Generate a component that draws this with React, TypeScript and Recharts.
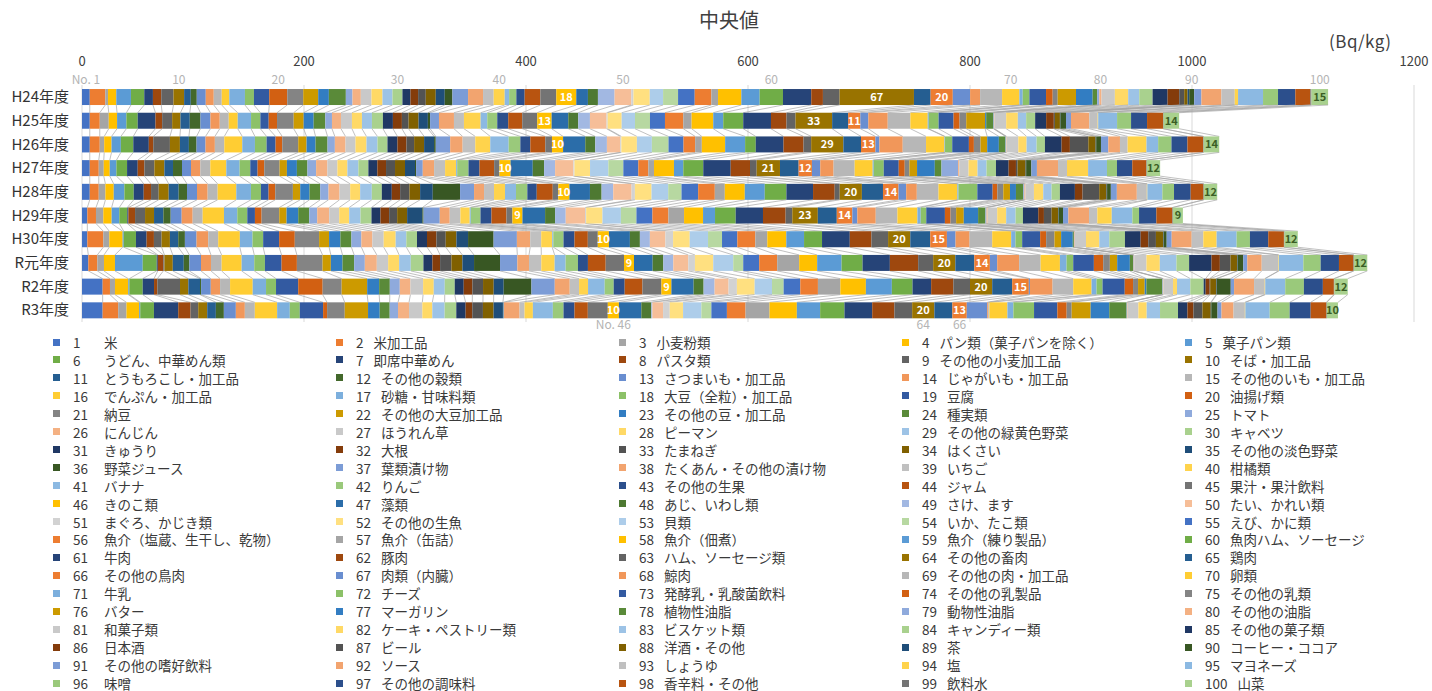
import React from 'react'
import { BarChart, Bar, XAxis, YAxis, CartesianGrid, LabelList } from 'recharts'

// 年度
const years = ['H24年度', 'H25年度', 'H26年度', 'H27年度', 'H28年度', 'H29年度', 'H30年度', 'R元年度', 'R2年度', 'R3年度']

// 食品群 No.1〜100
const itemNames = [
  '米', '米加工品', '小麦粉類', 'パン類（菓子パンを除く）', '菓子パン類',
  'うどん、中華めん類', '即席中華めん', 'パスタ類', 'その他の小麦加工品', 'そば・加工品',
  'とうもろこし・加工品', 'その他の穀類', 'さつまいも・加工品', 'じゃがいも・加工品', 'その他のいも・加工品',
  'でんぷん・加工品', '砂糖・甘味料類', '大豆（全粒）・加工品', '豆腐', '油揚げ類',
  '納豆', 'その他の大豆加工品', 'その他の豆・加工品', '種実類', 'トマト',
  'にんじん', 'ほうれん草', 'ピーマン', 'その他の緑黄色野菜', 'キャベツ',
  'きゅうり', '大根', 'たまねぎ', 'はくさい', 'その他の淡色野菜',
  '野菜ジュース', '葉類漬け物', 'たくあん・その他の漬け物', 'いちご', '柑橘類',
  'バナナ', 'りんご', 'その他の生果', 'ジャム', '果汁・果汁飲料',
  'きのこ類', '藻類', 'あじ、いわし類', 'さけ、ます', 'たい、かれい類',
  'まぐろ、かじき類', 'その他の生魚', '貝類', 'いか、たこ類', 'えび、かに類',
  '魚介（塩蔵、生干し、乾物）', '魚介（缶詰）', '魚介（佃煮）', '魚介（練り製品）', '魚肉ハム、ソーセージ',
  '牛肉', '豚肉', 'ハム、ソーセージ類', 'その他の畜肉', '鶏肉',
  'その他の鳥肉', '肉類（内臓）', '鯨肉', 'その他の肉・加工品', '卵類',
  '牛乳', 'チーズ', '発酵乳・乳酸菌飲料', 'その他の乳製品', 'その他の乳類',
  'バター', 'マーガリン', '植物性油脂', '動物性油脂', 'その他の油脂',
  '和菓子類', 'ケーキ・ペストリー類', 'ビスケット類', 'キャンディー類', 'その他の菓子類',
  '日本酒', 'ビール', '洋酒・その他', '茶', 'コーヒー・ココア',
  'その他の嗜好飲料', 'ソース', 'しょうゆ', '塩', 'マヨネーズ',
  '味噌', 'その他の調味料', '香辛料・その他', '飲料水', '山菜'
]

// 中央値 (Bq/kg) — 各年度 No.1〜100
const h24 = [
  7, 14, 2.4, 7.5, 13.2, 12, 7.8, 7.5, 11, 9.6,
  6, 5.4, 8.1, 7.2, 7.2, 6.8, 14.1, 8.1, 13.8, 16.2,
  14.4, 13.5, 9.6, 15.3, 6, 7.5, 9.6, 9.9, 9, 9,
  7.2, 6.9, 6.9, 9, 8.1, 6.9, 14.1, 13.5, 9.6, 9.9,
  4, 6.5, 7.5, 14.1, 14.4, 18, 10.5, 9, 15, 15,
  2, 14.7, 12, 13.5, 15, 15, 6, 21, 16.5, 21,
  25.5, 10.5, 15, 67, 15, 20, 15.6, 9, 19.8, 15.6,
  3, 6, 15, 6, 4.5, 16.5, 15, 4, 2, 2,
  12, 12, 10, 12, 13.5, 10.5, 4.5, 3, 1.5, 4.5,
  6.5, 18, 12, 3, 22.5, 13.5, 15.6, 13.5, 1, 15
]
const h25 = [
  7, 9, 8.1, 7.5, 8.4, 10.2, 16, 6, 9, 7.5,
  8.4, 9.6, 9, 8.4, 8.1, 8.1, 12, 8.4, 7.5, 7.5,
  15, 9, 9, 10.5, 6, 8.1, 9.9, 9, 9, 9.9,
  9, 8.1, 6, 9, 8.4, 2, 8, 13.5, 9, 15,
  6, 9, 9.9, 12.6, 13.5, 13, 15, 9, 10.5, 15,
  1, 12.6, 12, 13.5, 13.5, 16.5, 7.5, 19.5, 9, 18,
  25, 14, 8.1, 33, 14.4, 11, 7.2, 17.5, 20.4, 15.6,
  1, 8.8, 13.5, 5.4, 6, 17, 1, 6.5, 0.5, 0.5,
  10.5, 10.5, 7.5, 8.1, 9.9, 6.9, 1, 4.5, 0.5, 5,
  4.5, 16.5, 7.5, 0.5, 17, 12.6, 14.4, 14.4, 0.5, 14
]
const h26 = [
  7, 9, 4, 6.6, 8.4, 11.2, 14, 4, 15, 9,
  8.1, 6.9, 8.1, 8.4, 8.5, 16.2, 11.4, 10.5, 8.1, 6,
  14.4, 7.5, 8.1, 10.8, 6.6, 9.6, 9, 9.9, 9.9, 9,
  9, 8.1, 6.9, 9, 9, 1.5, 13, 11.2, 11.4, 13.5,
  16.6, 10.5, 9, 13.5, 6, 10, 20, 9, 10.5, 12,
  1, 14, 13.5, 15, 13.5, 10.5, 6, 21, 18, 9.6,
  25, 18, 6.9, 29, 15.9, 13, 3.6, 21, 21, 16.6,
  0.5, 6.5, 15, 4.5, 6, 6, 10.5, 6, 0.5, 0.5,
  10.5, 7.5, 9, 7.5, 15, 7.5, 16.6, 6.6, 0.5, 4.3,
  6.6, 10.5, 6.9, 17, 10.5, 12, 14.4, 14.1, 0.5, 14
]
const h27 = [
  7, 8.1, 4.5, 5.4, 6, 9.6, 9.6, 6, 9, 9,
  7.8, 8.1, 8.1, 8.4, 9, 14.4, 12, 9.6, 6.6, 6,
  13.8, 6.6, 9, 9.5, 7.8, 10.2, 9, 9, 9.9, 9,
  8.1, 7.8, 8.1, 9, 9, 1, 6, 10.2, 9.9, 9.9,
  1, 10.2, 9.9, 13.2, 4.8, 10, 20, 10.2, 9.9, 16.5,
  1, 14, 16.5, 13.5, 13.5, 9, 5.1, 18, 8.4, 18,
  24.7, 17.4, 6, 21, 16.8, 12, 7.5, 12, 19, 16.2,
  1, 9, 13.5, 5.4, 4.2, 6.9, 16, 6, 15, 1,
  8.4, 8.1, 8.1, 8.5, 11.4, 6.6, 1.5, 7.2, 0.5, 4.7,
  5, 19, 8.1, 19, 17, 9, 13.8, 12.6, 0.5, 12
]
const h28 = [
  7, 8.1, 6, 7.5, 9.6, 8.4, 9, 6.6, 6.9, 9,
  9, 7.5, 9, 9.6, 9, 16.8, 13.2, 9, 6.9, 6,
  15.9, 6.6, 8.4, 9.6, 7.5, 9.9, 9.6, 9, 10.5, 9,
  9, 7.5, 8.4, 9.6, 11.4, 24.6, 12.6, 9, 9, 9.9,
  9.9, 10.2, 8.5, 14.4, 5, 10, 18.5, 10.5, 10.5, 16.5,
  3, 15, 15, 12, 15, 15, 9, 18, 18, 19.5,
  24, 19.5, 4.5, 20, 19, 14, 6.9, 9.6, 19.5, 17,
  1, 17, 13.8, 4.2, 5.4, 6, 5.4, 6.6, 1, 1,
  7.6, 8.4, 7.5, 7.5, 13.5, 6.9, 15, 6.6, 0.5, 3.4,
  5.4, 18, 9, 0.5, 13.5, 10.5, 15, 11.4, 0.5, 12
]
const h29 = [
  4.8, 7.8, 6.6, 7.5, 6.9, 7.2, 1, 6, 9, 8.1,
  8.4, 6.6, 9.9, 9.9, 9, 19.2, 12, 9, 6.9, 6,
  15.9, 6.6, 10.5, 9.9, 7.2, 10.8, 9, 9, 10.2, 9.9,
  8.1, 7.8, 7.2, 9, 13.8, 1, 14.6, 9, 9.6, 8.4,
  1, 8.7, 9.9, 13.5, 5.4, 9, 20.4, 9, 9.6, 17.4,
  1, 14.7, 16.6, 14, 14.4, 14.4, 14.1, 17.1, 10.8, 18.6,
  24.6, 20.4, 6, 23, 17.1, 14, 4.5, 16.6, 19.5, 18,
  3, 5, 16.8, 5.1, 5, 6.9, 12.9, 6.6, 1, 1,
  8.6, 8.1, 8.5, 6.6, 13.8, 5.1, 6.9, 6, 0.5, 3.8,
  4.8, 18.6, 7.5, 13, 18.6, 6, 15.6, 14.4, 0.5, 9
]
const h30 = [
  4.8, 14.4, 5.4, 12, 1, 11, 9.6, 6.6, 6.9, 7.5,
  7.5, 6, 10.5, 10.5, 9, 19.5, 11.4, 9.6, 14.4, 14.1,
  21.9, 9, 10.2, 9.9, 9, 9.9, 10.2, 10.8, 9.6, 9.6,
  9, 8.5, 8.4, 9.6, 10.5, 23, 21, 12, 9.9, 9.9,
  1, 9.2, 9.9, 12, 9, 10, 18.9, 9, 9, 14,
  6.9, 15, 16.5, 12.6, 13.8, 16.2, 10.8, 17.1, 16, 16.2,
  25, 19.5, 15, 20, 18, 15, 7.8, 12.6, 20.4, 17.1,
  3.9, 6, 16.2, 5.4, 7.5, 6, 10.5, 1, 0.5, 0.5,
  9.9, 12, 9, 14.1, 14.1, 6.9, 6.9, 6.6, 0.5, 2.6,
  4.5, 18, 10.5, 12, 18, 12, 16.5, 14.1, 0.5, 12
]
const r1 = [
  5.7, 8.1, 6, 9.9, 25, 12.6, 1, 5, 1, 7.5,
  9.9, 5, 10.5, 9, 9.6, 18, 11.4, 9.6, 15, 13.8,
  23.1, 7.5, 10.5, 10.5, 9.6, 10.8, 10.2, 9.9, 10.5, 11.4,
  8.1, 6.9, 10.2, 9.9, 10.5, 23.4, 15.6, 10.5, 11.1, 12,
  9.9, 11.1, 9, 16, 16.5, 9, 16.8, 9.6, 9, 13.5,
  6, 16.5, 18, 9, 14.4, 16.2, 19.8, 16.2, 22, 18.9,
  24.6, 25.5, 13.5, 20, 17.1, 14, 6.6, 19.8, 19.3, 17.4,
  6, 6, 18.6, 8.4, 6, 6.6, 11.4, 3, 0.5, 0.5,
  11, 12, 15, 11.4, 20.2, 7.5, 9.6, 6, 0.5, 5,
  3.6, 13, 15, 0.5, 22, 15.6, 16.5, 13, 0.5, 12
]
const r2 = [
  18.6, 6.6, 4.5, 12, 1, 12, 10.2, 3, 20.4, 7.5,
  10.5, 1, 8.7, 8.4, 9, 20.4, 12, 9, 20, 22,
  17.1, 23, 10.8, 9.6, 9, 9.6, 11.4, 9.6, 9.9, 9,
  8.1, 7.8, 9.6, 9.6, 9, 25, 21, 13.5, 8.4, 8.1,
  15, 8.1, 9.9, 16, 17.1, 9, 20, 9, 9.9, 12.6,
  7.5, 16, 15.6, 10.5, 15, 15.9, 20.2, 23, 23.4, 18.6,
  16.8, 20, 15, 20, 18, 15, 1, 20.4, 18.6, 16.5,
  4.5, 5.4, 20, 7.5, 4.5, 6, 1.5, 14.4, 0.5, 0.5,
  8.6, 3.6, 12, 12, 1.8, 3.6, 0.5, 5.4, 0.5, 12.6,
  3, 18, 9.6, 0.5, 18, 16.8, 17.1, 9.9, 0.5, 12
]
const r3 = [
  18.6, 14, 7.5, 11.4, 1, 12.3, 21.9, 11.1, 6.9, 8.1,
  7.8, 7.2, 10.8, 8.1, 9, 20.1, 11.4, 9, 21, 3.6,
  15.9, 21, 10.5, 9, 7.5, 9.9, 12, 9, 11.1, 10.5,
  8.4, 6, 9.6, 9.6, 8.4, 0.5, 0.5, 14, 4.5, 7.5,
  18, 9.6, 9.9, 12, 18, 10, 20.2, 9, 1, 9.6,
  6, 12, 16.5, 9, 14, 16.8, 21.6, 24.6, 21, 21.9,
  25, 20, 16, 20, 16.2, 13, 18.4, 1, 1, 16.2,
  5.4, 18.6, 21, 8.4, 4.5, 17.1, 16.8, 15.6, 0.5, 0.5,
  9.6, 7.5, 12, 16.2, 8.5, 5.4, 8.1, 7.5, 0.5, 5.6,
  3.6, 10.8, 10.2, 0.5, 21.9, 18, 18.9, 14.1, 0.5, 10
]

const yearValues = [h24, h25, h26, h27, h28, h29, h30, r1, r2, r3]

const xTicks = [0, 200, 400, 600, 800, 1000, 1200]
const topMarks = [1, 10, 20, 30, 40, 50, 60, 70, 80, 90, 100]
const bottomMarks = [46, 64, 66]
const valueLabelled = [46, 64, 66, 100]

// recharts 用のテーブル
const data = years.map((year, r) => {
  const row: any = { year }
  yearValues[r].forEach((v, i) => { row['s' + (i + 1)] = v })
  return row
})
const cumulative = yearValues.map(vals => {
  let s = 0
  return vals.map(v => (s += v))
})

// Excel 既定の配色（アクセント1〜6 × 明度バリエーション）
const BASE = ['#4472C4', '#ED7D31', '#A5A5A5', '#FFC000', '#5B9BD5', '#70AD47']
const VARIANTS = [[1, 0], [0.6, 0], [0.8, 0.2], [0.8, 0], [0.6, 0.4], [0.5, 0], [0.7, 0.3], [0.7, 0], [0.5, 0.5]]
const OVERRIDE: Record<number, string> = { 46: '#FFC000', 66: '#ED7D31', 100: '#A9D18E' }

function shade(hex: string, mod: number, off: number) {
  const n = parseInt(hex.slice(1), 16)
  const r = ((n >> 16) & 255) / 255, g = ((n >> 8) & 255) / 255, b = (n & 255) / 255
  const max = Math.max(r, g, b), min = Math.min(r, g, b)
  let h = 0, s = 0, l = (max + min) / 2
  if (max !== min) {
    const d = max - min
    s = l > 0.5 ? d / (2 - max - min) : d / (max + min)
    if (max === r) h = (g - b) / d + (g < b ? 6 : 0)
    else if (max === g) h = (b - r) / d + 2
    else h = (r - g) / d + 4
    h /= 6
  }
  l = Math.min(1, l * mod + off)
  const hue = (p: number, q: number, t: number) => {
    if (t < 0) t += 1
    if (t > 1) t -= 1
    if (t < 1 / 6) return p + (q - p) * 6 * t
    if (t < 1 / 2) return q
    if (t < 2 / 3) return p + (q - p) * (2 / 3 - t) * 6
    return p
  }
  let r2 = l, g2 = l, b2 = l
  if (s !== 0) {
    const q = l < 0.5 ? l * (1 + s) : l + s - l * s
    const p = 2 * l - q
    r2 = hue(p, q, h + 1 / 3)
    g2 = hue(p, q, h)
    b2 = hue(p, q, h - 1 / 3)
  }
  const to = (x: number) => Math.round(x * 255).toString(16).padStart(2, '0')
  return '#' + to(r2) + to(g2) + to(b2)
}

const colorOf = (n: number) => {
  if (OVERRIDE[n]) return OVERRIDE[n]
  const [mod, off] = VARIANTS[Math.floor(((n - 1) % 54) / 6)]
  return shade(BASE[(n - 1) % 6], mod, off)
}

const FONT = '"Noto Sans CJK JP", "Noto Sans", sans-serif'
const CHART_W = 1432
const CHART_H = 331
const MARGIN = { top: 50, right: 18, bottom: 9, left: 0 }
const X_AXIS_H = 35
const BAND = (CHART_H - MARGIN.top - MARGIN.bottom - X_AXIS_H) / years.length

// 区分線（系列線）付きのセグメント
function Segment(props: any) {
  const { x, y, width, height, index, k } = props
  const row = index as number
  const v = yearValues[row][k - 1]
  let link = null
  if (row < yearValues.length - 1 && width > 0 && v > 0) {
    const ppu = width / v
    const x1 = x + width
    const x2 = x1 + (cumulative[row + 1][k - 1] - cumulative[row][k - 1]) * ppu
    link = <line x1={x1} y1={y + height} x2={x2} y2={y + BAND} stroke="#A6A6A6" strokeWidth={0.7} />
  }
  return (
    <g>
      <rect x={x} y={y} width={width} height={height} fill={colorOf(k)} />
      {link}
    </g>
  )
}

const topMark = (k: number) => (p: any) => {
  if (p.index !== 0) return null
  const vb = p.viewBox ?? p
  return (
    <text x={vb.x + vb.width / 2} y={vb.y - 5} textAnchor="middle" fontSize={12} fill="#B4B4B4" fontFamily={FONT}>
      {k === 1 ? 'No. 1' : String(k)}
    </text>
  )
}

const bottomMark = (k: number) => (p: any) => {
  if (p.index !== years.length - 1) return null
  const vb = p.viewBox ?? p
  return (
    <text x={vb.x + vb.width / 2} y={vb.y + vb.height + 11} textAnchor="middle" fontSize={12} fill="#B4B4B4" fontFamily={FONT}>
      {k === 46 ? 'No. 46' : String(k)}
    </text>
  )
}

export default function App() {
  const keys = itemNames.map((_, i) => i + 1)
  return (
    <div style={{ position: 'absolute', left: 0, top: 0, width: 1432, height: 691, background: '#fff', fontFamily: FONT, color: '#404040' }}>
      <div style={{ position: 'absolute', left: 0, width: 1458, top: 6, textAlign: 'center', fontSize: 20, lineHeight: '28px' }}>中央値</div>
      <div style={{ position: 'absolute', left: 1329, top: 29, fontSize: 17, lineHeight: '24px', letterSpacing: 0.5 }}>(Bq/kg)</div>

      <BarChart
        width={CHART_W}
        height={CHART_H}
        data={data}
        layout="vertical"
        margin={MARGIN}
        barCategoryGap="17%"
        style={{ position: 'absolute', left: 0, top: 0 }}
      >
        <CartesianGrid horizontal={false} stroke="#D9D9D9" />
        <XAxis
          type="number"
          orientation="top"
          domain={[0, 1200]}
          ticks={xTicks}
          height={X_AXIS_H}
          axisLine={false}
          tickLine={false}
          tickSize={0}
          tickMargin={19}
          tick={{ fontSize: 13, fill: '#404040', fontFamily: FONT }}
        />
        <YAxis
          type="category"
          dataKey="year"
          width={82}
          interval={0}
          axisLine={false}
          tickLine={false}
          tickSize={0}
          tickMargin={13}
          tick={{ fontSize: 15, fill: '#333', fontFamily: FONT }}
        />
        {keys.map(k => (
          <Bar
            key={k}
            dataKey={'s' + k}
            name={itemNames[k - 1]}
            stackId="a"
            fill={colorOf(k)}
            isAnimationActive={false}
            shape={(p: any) => <Segment {...p} k={k} />}
          >
            {valueLabelled.includes(k) && (
              <LabelList
                dataKey={'s' + k}
                position="center"
                fill={k === 100 ? '#3B5E24' : '#fff'}
                fontSize={11}
                fontWeight={700}
                fontFamily={FONT}
              />
            )}
            {topMarks.includes(k) && <LabelList dataKey={'s' + k} content={topMark(k)} />}
            {bottomMarks.includes(k) && <LabelList dataKey={'s' + k} content={bottomMark(k)} />}
          </Bar>
        ))}
      </BarChart>

      {keys.map(k => {
        const i = k - 1
        const col = i % 5
        const row = Math.floor(i / 5)
        const left = 50 + col * 283
        const top = 333 + row * 17.95
        return (
          <div key={k} style={{ position: 'absolute', left, top, height: 18, display: 'flex', alignItems: 'center', fontSize: 13.5, whiteSpace: 'nowrap', color: '#3a3a3a' }}>
            <span style={{ display: 'inline-block', width: 7, height: 7, background: colorOf(k), marginLeft: 3, marginRight: 13 }} />
            <span style={{ display: 'inline-block', minWidth: col === 0 ? 20 : 0 }}>{k}</span>
            <span style={{ marginLeft: col === 0 ? 11 : 10 }}>{itemNames[i]}</span>
          </div>
        )
      })}
    </div>
  )
}
